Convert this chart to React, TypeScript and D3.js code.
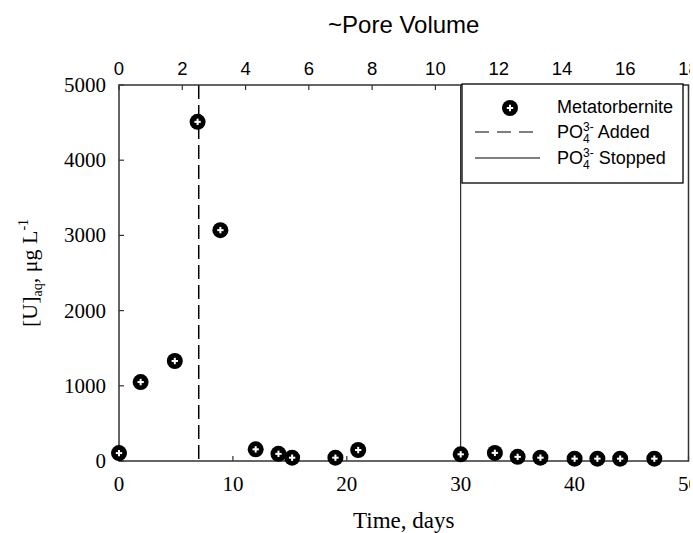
import React from "react";
import * as d3 from "d3";

const days = [0, 1.9, 4.9, 6.9, 8.9, 12, 14, 15.2, 19, 21, 30, 33, 35, 37, 40, 42, 44, 47];
const uaq = [105, 1050, 1330, 4510, 3070, 155, 95, 44, 44, 146, 89, 108, 55, 44, 31, 31, 31, 31];
const dayTicks = [0, 10, 20, 30, 40, 50];
const uTicks = [0, 1000, 2000, 3000, 4000, 5000];
const pvTicks = [0, 2, 4, 6, 8, 10, 12, 14, 16, 18];
const addedDay = 7;
const stoppedDay = 30;

const W = 690, H = 533;
const L = 119, R = 688.5, T = 85, B = 461;
const serif = "'Liberation Serif', 'Times New Roman', serif";
const sans = "'Liberation Sans', Arial, sans-serif";
const frameColor = "#333";

function Marker({ cx, cy }: { cx: number; cy: number }) {
  return (
    <g>
      <circle cx={cx} cy={cy} r={8} fill="#000" />
      <line x1={cx - 3.2} x2={cx + 3.2} y1={cy} y2={cy} stroke="#fff" strokeWidth={2} />
      <line x1={cx} x2={cx} y1={cy - 3.2} y2={cy + 3.2} stroke="#fff" strokeWidth={2} />
    </g>
  );
}

export default function App() {
  const x = d3.scaleLinear().domain([0, 50]).range([L, R]);
  const xPV = d3.scaleLinear().domain([0, 18]).range([L, R]);
  const y = d3.scaleLinear().domain([0, 5000]).range([B, T]);

  return (
    <svg width={W} height={H} style={{ position: "absolute", left: 0, top: 0, background: "#fff" }}>
      <rect x={0} y={0} width={W} height={H} fill="#fff" />
      {/* top title */}
      <text x={(L + R) / 2} y={33} textAnchor="middle" fontFamily={sans} fontSize={24} fill="#000">~Pore Volume</text>
      {/* top tick labels */}
      {pvTicks.map((t) => (
        <g key={"pv" + t}>
          <text x={xPV(t)} y={75} textAnchor="middle" fontFamily={sans} fontSize={18.5} fill="#000">{t}</text>
          <line x1={xPV(t)} x2={xPV(t)} y1={T} y2={T + 5} stroke={frameColor} strokeWidth={1.2} />
        </g>
      ))}
      {/* left ticks */}
      {uTicks.map((t) => (
        <g key={"u" + t}>
          <text x={106} y={y(t) + 7} textAnchor="end" fontFamily={serif} fontSize={21} fill="#000">{t}</text>
          <line x1={L} x2={L + 5} y1={y(t)} y2={y(t)} stroke={frameColor} strokeWidth={1.2} />
        </g>
      ))}
      {/* bottom ticks */}
      {dayTicks.map((t) => (
        <g key={"d" + t}>
          <text x={x(t)} y={491} textAnchor="middle" fontFamily={serif} fontSize={21} fill="#000">{t}</text>
          <line x1={x(t)} x2={x(t)} y1={B} y2={B - 5} stroke={frameColor} strokeWidth={1.2} />
        </g>
      ))}
      {/* axis titles */}
      <text x={(L + R) / 2} y={528} textAnchor="middle" fontFamily={serif} fontSize={23} fill="#000">Time, days</text>
      <text transform={`translate(37, ${(T + B) / 2}) rotate(-90)`} textAnchor="middle" fontFamily={serif} fontSize={22} fill="#000">
        [U]<tspan fontSize={14} dy={5}>aq</tspan><tspan dy={-5}>, μg L</tspan><tspan fontSize={14} dy={-9}>-1</tspan>
      </text>
      {/* reference lines */}
      <line x1={x(addedDay)} x2={x(addedDay)} y1={T} y2={B} stroke="#000" strokeWidth={1.5} strokeDasharray="14,6" />
      <line x1={x(stoppedDay)} x2={x(stoppedDay)} y1={T} y2={B} stroke="#000" strokeWidth={1} />
      {/* frame */}
      <rect x={L} y={T} width={R - L} height={B - T} fill="none" stroke={frameColor} strokeWidth={1.5} />
      {/* legend */}
      <rect x={462} y={84} width={221} height={99} fill="#fff" stroke="#000" strokeWidth={1.3} />
      <Marker cx={510} cy={108} />
      <text x={557} y={113} fontFamily={sans} fontSize={18} fill="#000">Metatorbernite</text>
      <line x1={475} x2={533} y1={132} y2={132} stroke="#000" strokeWidth={1} strokeDasharray="14,8" />
      <text x={557} y={138} fontFamily={sans} fontSize={18} fill="#000">
        PO<tspan fontSize={12} dy={5}>4</tspan><tspan fontSize={12} dx={-6.7} dy={-12}>3-</tspan><tspan dy={7}> Added</tspan>
      </text>
      <line x1={475} x2={540} y1={158} y2={158} stroke="#000" strokeWidth={1} />
      <text x={557} y={164} fontFamily={sans} fontSize={18} fill="#000">
        PO<tspan fontSize={12} dy={5}>4</tspan><tspan fontSize={12} dx={-6.7} dy={-12}>3-</tspan><tspan dy={7}> Stopped</tspan>
      </text>
      {/* data */}
      {days.map((d, i) => (
        <Marker key={"m" + i} cx={x(d)} cy={y(uaq[i])} />
      ))}
    </svg>
  );
}
